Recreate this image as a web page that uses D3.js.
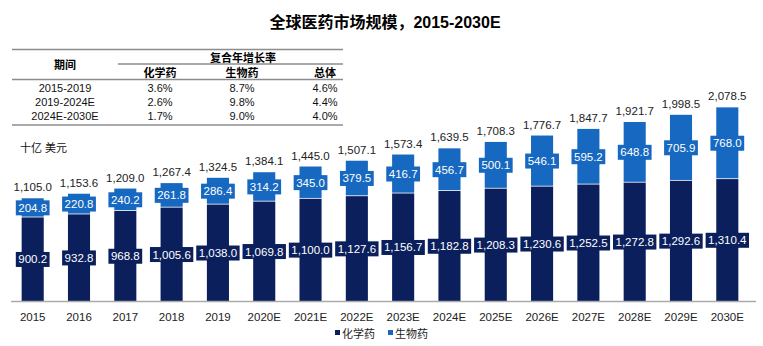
<!DOCTYPE html>
<html>
<head>
<meta charset="utf-8">
<script src="https://cdn.jsdelivr.net/npm/d3@7"></script>
<style>
  body { margin:0; background:#fff; }
  svg text { font-family: Arial, "Liberation Sans", "Noto Sans CJK SC", sans-serif; }
</style>
</head>
<body>
<div id="chartContainer"></div>
<script>
var years = ["2015","2016","2017","2018","2019","2020E","2021E","2022E","2023E","2024E","2025E","2026E","2027E","2028E","2029E","2030E"]
var chemical = [900.2,932.8,968.8,1005.6,1038.0,1069.8,1100.0,1127.6,1156.7,1182.8,1208.3,1230.6,1252.5,1272.8,1292.6,1310.4]
var biologic = [204.8,220.8,240.2,261.8,286.4,314.2,345.0,379.5,416.7,456.7,500.1,546.1,595.2,648.8,705.9,768.0]
var totals = [1105.0,1153.6,1209.0,1267.4,1324.5,1384.1,1445.0,1507.1,1573.4,1639.5,1708.3,1776.7,1847.7,1921.7,1998.5,2078.5]

var tablePeriods = ["2015-2019","2019-2024E","2024E-2030E"]
var cagrChemical = ["3.6%","2.6%","1.7%"]
var cagrBiologic = ["8.7%","9.8%","9.0%"]
var cagrTotal = ["4.6%","4.4%","4.0%"]

var seriesNames = ["化学药","生物药"]
var NAVY = "#0b1f5c", BLUE = "#1668c0"

var W = 763, H = 346
var svg = d3.select("#chartContainer").append("svg")
  .attr("width", W).attr("height", H)

// title
svg.append("text")
  .attr("x", 385).attr("y", 28)
  .attr("text-anchor","middle")
  .style("font-size","16px").style("font-weight","bold").style("fill","#000")
  .text("全球医药市场规模，2015-2030E")

// CAGR table
var tbl = svg.append("g"),
    lineColor = "#8c8c8c"
function hline(x1, x2, y){
  tbl.append("line").attr("x1",x1).attr("x2",x2).attr("y1",y).attr("y2",y)
    .style("stroke",lineColor).style("stroke-width",1.5)
}
hline(12, 343, 49.5)
hline(118, 343, 64)
hline(12, 343, 79.5)
hline(12, 343, 125)

var colX = [65, 160, 242, 325]
tbl.append("text").attr("x",colX[0]).attr("y",69).attr("text-anchor","middle")
  .style("font-size","11px").style("font-weight","bold").text("期间")
tbl.append("text").attr("x",243).attr("y",62).attr("text-anchor","middle")
  .style("font-size","11px").style("font-weight","bold").text("复合年增长率")
;["化学药","生物药","总体"].forEach(function(h,i){
  tbl.append("text").attr("x",colX[i+1]).attr("y",77).attr("text-anchor","middle")
    .style("font-size","11px").style("font-weight","bold").text(h)
})
var rowY = [91.5, 105.5, 120]
tablePeriods.forEach(function(p,i){
  var cells = [p, cagrChemical[i], cagrBiologic[i], cagrTotal[i]]
  cells.forEach(function(c,j){
    tbl.append("text").attr("x",colX[j]).attr("y",rowY[i]).attr("text-anchor","middle")
      .style("font-size","11px").style("fill","#111").text(c)
  })
})

// unit label
svg.append("text").attr("x",20).attr("y",152)
  .style("font-size","11px").style("fill","#111").text("十亿 美元")

// chart
var data = years.map(function(y,i){
  return {year:y, chem:chemical[i], bio:biologic[i], total:totals[i]}
})

var x = d3.scaleBand().domain(years).range([11, 749]).paddingInner(0.523).paddingOuter(0.23)
var y = d3.scaleLinear().domain([0, 2200]).range([301.5, 96])
var fmt = d3.format(",.1f")

var bars = svg.append("g")
bars.selectAll(".bar.chem")
  .data(data)
.enter().append("rect")
  .attr("class","bar chem")
  .attr("x", function(d){ return x(d.year) })
  .attr("width", x.bandwidth())
  .attr("y", function(d){ return y(d.chem) })
  .attr("height", function(d){ return y(0) - y(d.chem) })
  .style("fill", NAVY)

bars.selectAll(".bar.bio")
  .data(data)
.enter().append("rect")
  .attr("class","bar bio")
  .attr("x", function(d){ return x(d.year) })
  .attr("width", x.bandwidth())
  .attr("y", function(d){ return y(d.chem + d.bio) })
  .attr("height", function(d){ return y(d.chem) - y(d.chem + d.bio) - 0.8 })
  .style("fill", BLUE)

// boxed value labels at segment centers
function boxLabel(d, value, mid, color){
  var g = bars.append("g")
  var cx = x(d.year) + x.bandwidth()/2
  var t = g.append("text")
    .attr("x", cx).attr("y", mid + 4)
    .attr("text-anchor","middle")
    .style("font-size","11.5px").style("fill","#fff")
    .text(fmt(value))
  var bw = t.node().getComputedTextLength() + 5
  g.insert("rect","text")
    .attr("x", cx - bw/2).attr("y", mid - 7.5)
    .attr("width", bw).attr("height", 15)
    .style("fill", color)
}
data.forEach(function(d){
  boxLabel(d, d.chem, (y(0) + y(d.chem))/2, NAVY)
  boxLabel(d, d.bio, (y(d.chem) + y(d.chem + d.bio))/2, BLUE)
})

// totals
bars.selectAll(".totalLabel")
  .data(data)
.enter().append("text")
  .attr("class","totalLabel")
  .attr("x", function(d){ return x(d.year) + x.bandwidth()/2 })
  .attr("y", function(d){ return y(d.total) - 7 })
  .attr("text-anchor","middle")
  .style("font-size","11.5px").style("fill","#222")
  .text(function(d){ return fmt(d.total) })

// x axis
var xAxis = svg.append("g").attr("transform","translate(0," + y(0) + ")")
  .call(d3.axisBottom(x).tickSize(0).tickPadding(11))
xAxis.select(".domain").remove()
xAxis.append("line").attr("x1",11).attr("x2",756).attr("y1",0).attr("y2",0)
  .style("stroke","#aaa").style("stroke-width",1.5)
xAxis.selectAll(".tick text")
  .style("font-size","11.5px").style("fill","#222")
  .style("font-family","Arial, 'Liberation Sans', sans-serif")

// legend
var legend = svg.append("g")
var legX = [335, 388]
seriesNames.forEach(function(n,i){
  legend.append("rect").attr("x",legX[i]).attr("y",330).attr("width",5).attr("height",5)
    .style("fill", i == 0 ? NAVY : BLUE)
  legend.append("text").attr("x",legX[i]+7).attr("y",337.5)
    .style("font-size","11px").style("fill","#222").text(n)
})
</script>
</body>
</html>
